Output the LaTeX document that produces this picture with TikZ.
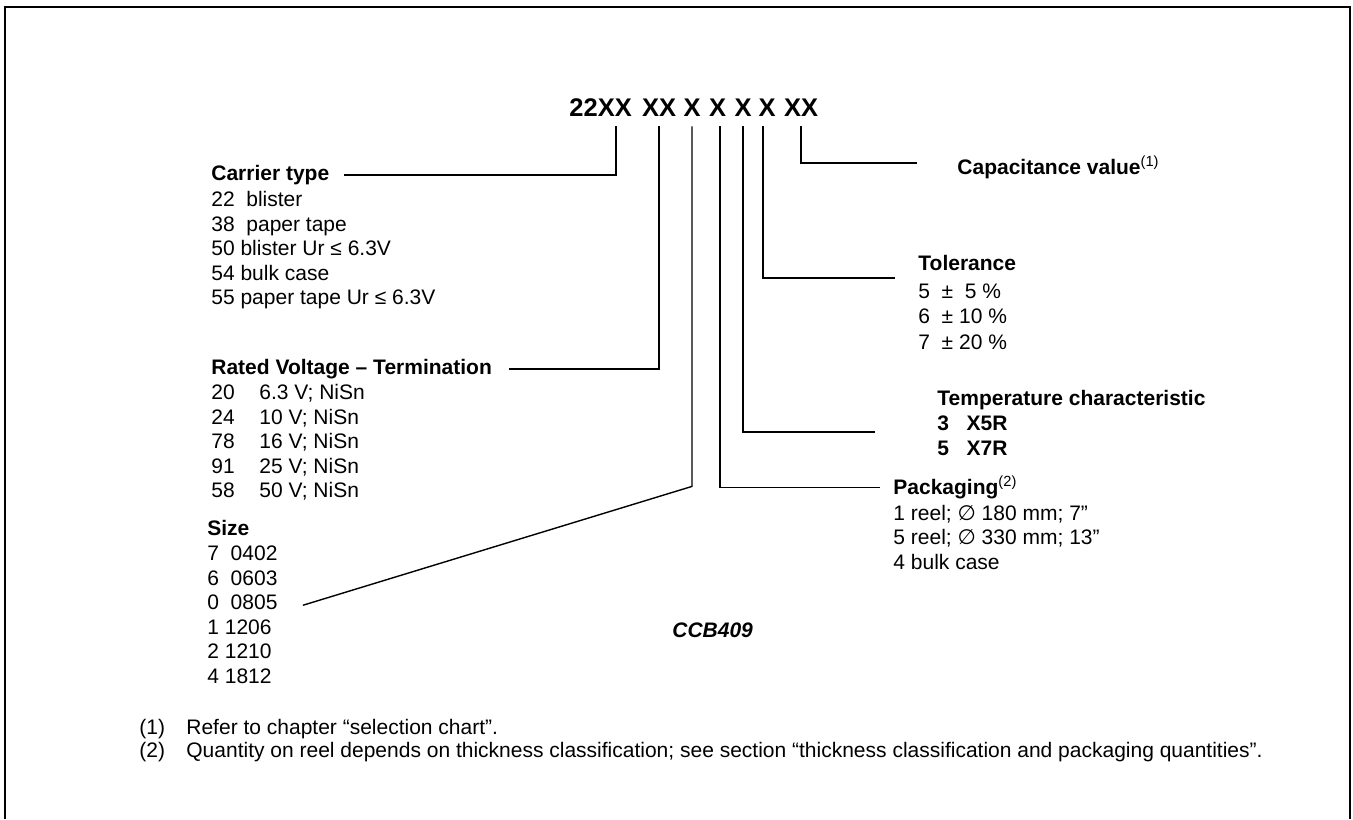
\documentclass[tikz,border=0pt]{standalone}
\usepackage{fontspec}
\setmainfont{Liberation Sans}
\newfontfamily\symfont{DejaVu Sans}
\begin{document}
\begin{tikzpicture}[x=0.5pt,y=-0.5pt,
    txt/.style={anchor=base west,inner sep=0pt,font=\fontsize{10.5pt}{12.25pt}\selectfont},
    head/.style={txt,font=\fontsize{10.5pt}{12.25pt}\selectfont\bfseries},
    code/.style={anchor=base,inner sep=0pt,font=\fontsize{12.75pt}{15pt}\selectfont\bfseries},
    lead/.style={line width=0.7pt,shorten <=5pt}]
    \useasboundingbox (0,0) rectangle (1353,819);
    \draw[line width=0.8pt] (5,819) -- (5,7) -- (1350,7) -- (1350,819);% frame, open at the bottom
    % type code
    \node[code,anchor=base west] (g1) at (569,116) {22XX};
    \node[code] (g2) at (659,116) {XX};
    \node[code] (g3) at (692,116) {X};
    \node[code] (g4) at (717.5,116) {X};
    \node[code] (g5) at (743,116) {X};
    \node[code] (g6) at (767,116) {X};
    \node[code] (g7) at (801,116) {XX};
    % carrier type
    \node[head] (carrier) at (211,180.5) {Carrier type};
    \foreach \t [count=\i] in {22~~blister, 38~~paper tape, 50 blister Ur ≤ 6.3V, 54 bulk case, 55 paper tape Ur ≤ 6.3V}
        \node[txt] (ct\i) at (211,182+24.5*\i) {\t};
    % rated voltage
    \node[head] (rated) at (211,374.5) {Rated Voltage – Termination};
    \foreach \n/\v [count=\i] in {20/6.3 V; NiSn, 24/10 V; NiSn, 78/16 V; NiSn, 91/25 V; NiSn, 58/50 V; NiSn}
        \node[txt] (rv\i) at (211,375+24.5*\i) {\makebox[24pt][l]{\n}\v};
    % size
    \node[head] (size) at (207,535.5) {Size};
    \foreach \t [count=\i] in {7~~0402, 6~~0603, 0~~0805, 1 1206, 2 1210, 4 1812}
        \node[txt] (sz\i) at (207,536+24.5*\i) {\t};
    % packaging
    \node[head] (pack) at (893,494.5) {Packaging\textsuperscript{\mdseries(2)}};
    \foreach \t [count=\i] in {1 reel; {\symfont ∅} 180 mm; 7”, 5 reel; {\symfont ∅} 330 mm; 13”, 4 bulk case}
        \node[txt] (pk\i) at (893,495.5+24.5*\i) {\t};
    % temperature characteristic
    \node[head] (temp) at (937,405.5) {Temperature characteristic};
    \node[head] (tc1) at (937,430.5) {3~~~X5R};
    \node[head] (tc2) at (937,455) {5~~~X7R};
    % tolerance
    \node[head] (tol) at (918,270.5) {Tolerance};
    \node[txt] (tl1) at (918,298) {5~~±~~5 \%};
    \node[txt] (tl2) at (918,323.5) {6~~± 10 \%};
    \node[txt] (tl3) at (918,349) {7~~± 20 \%};
    % capacitance value
    \node[head] (cap) at (957,174.5) {Capacitance value\textsuperscript{\mdseries(1)}};
    % leader lines
    \coordinate (tcend) at (875,432);
    \coordinate (tolend) at (895,278);
    \coordinate (capend) at (917,163);
    \draw[lead,shorten >=7pt] ([xshift=-8pt]g1.south east) |- (carrier.east);
    \draw[lead,shorten >=8.5pt] (g2.south) |- (rated.east);
    \draw[lead] (g3.south) -- ++(0,370) -- ([xshift=12.5pt,yshift=-1.5pt]sz3.east);
    \draw[lead,shorten >=6.5pt] ([xshift=1.25pt]g4.south) |- (pack.west);
    \draw[lead] (g5.south) |- (tcend);
    \draw[lead] ([xshift=-2pt]g6.south) |- (tolend);
    \draw[lead] (g7.south) |- (capend);
    % figure code and notes
    \node[txt,font=\fontsize{10.5pt}{12.25pt}\selectfont\bfseries\itshape] (fig) at (672,637.5) {CCB409};
    \node[txt] (fn1) at (139,734) {(1)};
    \node[txt] (fn1t) at (186,734) {Refer to chapter “selection chart”.};
    \node[txt] (fn2) at (139,757.5) {(2)};
    \node[txt] (fn2t) at (186,757.5) {Quantity on reel depends on thickness classification; see section “thickness classification and packaging quantities”.};
\end{tikzpicture}
\end{document}
